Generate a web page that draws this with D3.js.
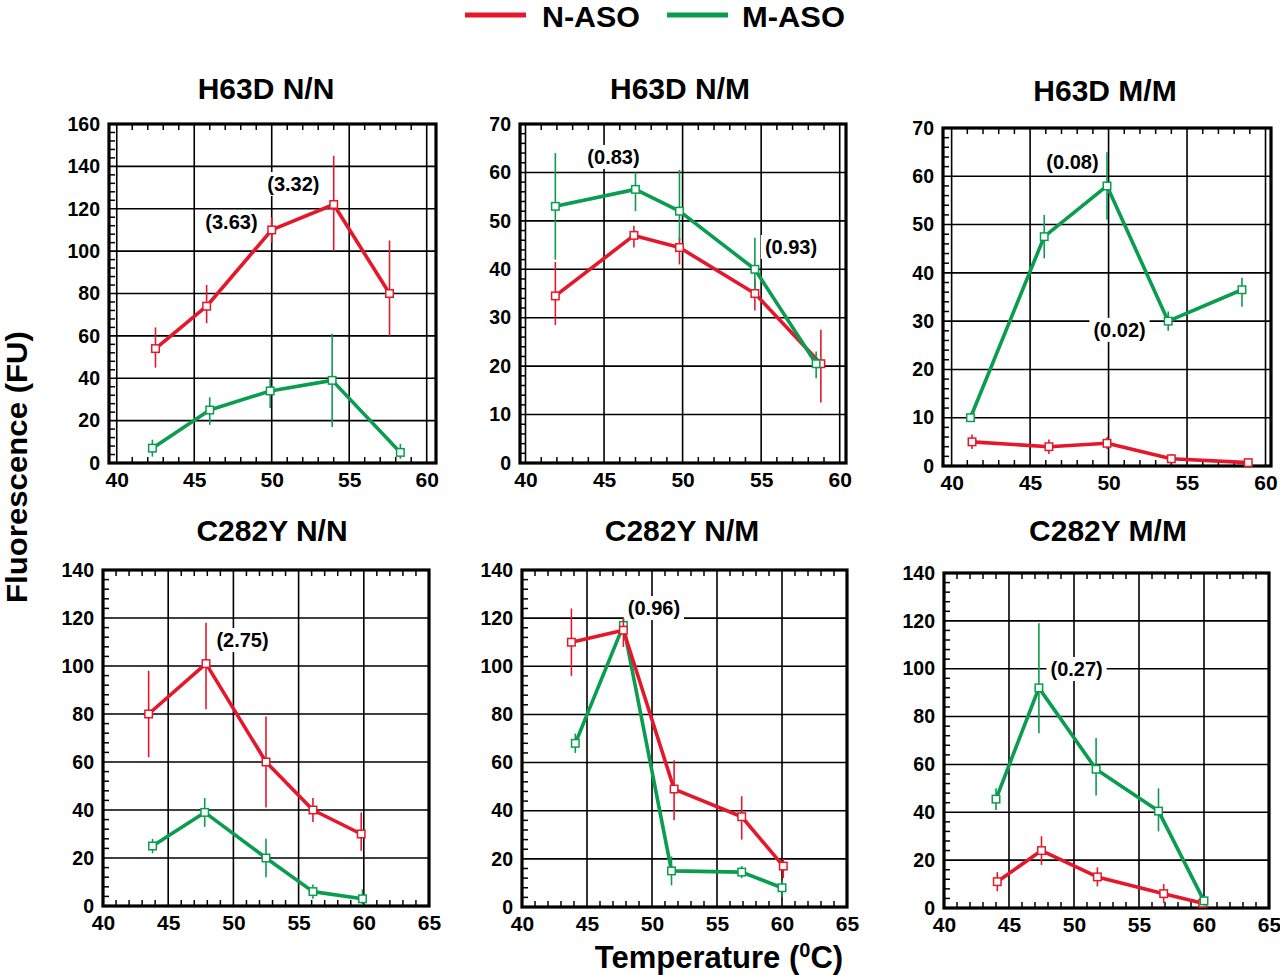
<!DOCTYPE html>
<html><head><meta charset="utf-8">
<script src="https://cdn.jsdelivr.net/npm/d3@7"></script>
<style>body{margin:0;background:#fff}</style>
</head><body>
<svg id="c" width="1280" height="975"></svg>
<script>
// ---------- DATA ----------
const seriesNames = ["N-ASO", "M-ASO"];
const panelTitles = ["H63D N/N", "H63D N/M", "H63D M/M", "C282Y N/N", "C282Y N/M", "C282Y M/M"];
const xTicksRow1 = [40, 45, 50, 55, 60];
const xTicksRow2 = [40, 45, 50, 55, 60, 65];
const yTicks160 = [0, 20, 40, 60, 80, 100, 120, 140, 160];
const yTicks70 = [0, 10, 20, 30, 40, 50, 60, 70];
const yTicks140 = [0, 20, 40, 60, 80, 100, 120, 140];

// each point: [temperature, value, error low, error high]
const h63dNN_N = [[42.5,54,45,64],[45.8,74,66,84],[50.0,110,104,116],[54.0,122,100,145],[57.6,80,60,105]];
const h63dNN_M = [[42.3,7,3,11],[46.0,25,18,31],[49.9,34,26,40],[53.9,39,17,61],[58.3,5,2,9]];
const h63dNM_N = [[41.9,34.5,28.5,41.5],[46.9,47,44.5,49],[49.8,44.5,41,46.5],[54.6,35,31.5,38],[58.8,20.5,12.5,27.5]];
const h63dNM_M = [[41.9,53,42,64],[47.0,56.5,52,60],[49.8,52,46,60.5],[54.6,40,36,46.5],[58.5,20.5,17.5,23]];
const h63dMM_N = [[41.3,5,3.5,6.5],[46.2,4,2.5,5.5],[49.9,4.7,3.5,6],[54.0,1.5,0.5,2.5],[58.9,0.7,0,1.2]];
const h63dMM_M = [[41.2,10,9.5,11],[45.9,47.5,43,52],[49.9,58,51,65],[53.8,30,28,32],[58.5,36.5,33,39]];
const c282yNN_N = [[43.5,80,62,98],[47.9,101,82,118],[52.5,60,41,79],[56.1,40,35,45],[59.8,30,23,39]];
const c282yNN_M = [[43.8,25,22,28],[47.8,39,33,45],[52.5,20,12,28],[56.1,6,3,9],[59.9,3,0.5,7]];
const c282yNM_N = [[43.8,110,96,124],[47.8,115,108,120],[51.7,49,36,61],[56.9,37.5,28,46],[60.1,17,12,20]];
const c282yNM_M = [[44.1,68,64,72],[47.8,117,114,120],[51.5,15,9,21],[56.9,14.5,12,17],[60.0,8,4,11]];
const c282yMM_N = [[44.1,11,7,15],[47.5,24,18,30],[51.8,13,9,17],[56.9,6,2,10],[59.9,2,1,3]];
const c282yMM_M = [[44.0,45.5,41,50],[47.3,92,73,119],[51.7,58,47,71],[56.5,40.5,32,50],[60.0,3,1,5]];

// ratio annotations: text and anchor in data units [temperature, value]
const annoText = [["(3.32)","(3.63)"],["(0.83)","(0.93)"],["(0.08)","(0.02)"],["(2.75)"],["(0.96)"],["(0.27)"]];
const annoAt = [[[51.4,131.7],[47.4,113.7]],[[45.6,63.2],[56.9,44.6]],[[47.7,63.0],[50.7,28.2]],[[50.7,110.8]],[[50.15,124.2]],[[50.2,99.9]]];

const panelSeries = [
  [h63dNN_M, h63dNN_N], [h63dNM_N, h63dNM_M], [h63dMM_N, h63dMM_M],
  [c282yNN_M, c282yNN_N], [c282yNM_M, c282yNM_N], [c282yMM_N, c282yMM_M]
];
const panelSeriesIdx = [[1,0],[0,1],[0,1],[1,0],[1,0],[0,1]]; // 0 = N-ASO, 1 = M-ASO

// ---------- LAYOUT ----------
const colors = ["#e5182b", "#0a9d4f"];
const FONT = "'Liberation Sans', Arial, Helvetica, sans-serif";
const layout = [
  {l:109, r:436, t:124, b:463, xd:[39.5,60.6],  yd:[0,160], xt:xTicksRow1, yt:yTicks160, title:[266,99]},
  {l:520, r:846, t:124, b:463, xd:[39.65,60.4], yd:[0,70],  xt:xTicksRow1, yt:yTicks70,  title:[680,99]},
  {l:943, r:1271,t:128, b:466, xd:[39.45,60.35],yd:[0,70],  xt:xTicksRow1, yt:yTicks70,  title:[1105,101]},
  {l:103, r:429, t:570, b:906, xd:[40,65],      yd:[0,140], xt:xTicksRow2, yt:yTicks140, title:[272,541]},
  {l:522, r:847, t:570, b:907, xd:[40,65],      yd:[0,140], xt:xTicksRow2, yt:yTicks140, title:[682,541]},
  {l:944, r:1269,t:573, b:908, xd:[40,65],      yd:[0,140], xt:xTicksRow2, yt:yTicks140, title:[1108,541]}
];

const svg = d3.select("#c").style("font-family", FONT);

// legend
const legend = [[465, 542], [667, 742]];
seriesNames.forEach((name, i) => {
  svg.append("line").attr("x1", legend[i][0]).attr("x2", legend[i][0] + 61)
    .attr("y1", 15).attr("y2", 15).attr("stroke", colors[i]).attr("stroke-width", 5);
  svg.append("text").attr("x", legend[i][1]).attr("y", 26.5).text(name)
    .attr("font-size", 29).attr("font-weight", "bold")
    .attr("textLength", i === 0 ? 98 : 103).attr("lengthAdjust", "spacingAndGlyphs");
});

layout.forEach((L, p) => {
  const x = d3.scaleLinear().domain(L.xd).range([L.l, L.r]);
  const y = d3.scaleLinear().domain(L.yd).range([L.b, L.t]);
  const g = svg.append("g");

  // title
  g.append("text").attr("x", L.title[0]).attr("y", L.title[1]).attr("text-anchor", "middle")
    .attr("font-size", 30).attr("font-weight", "bold").text(panelTitles[p]);

  // grid
  const gx = L.xt.filter(v => x(v) > L.l + 2 && x(v) < L.r - 2);
  const gy = L.yt.filter(v => y(v) < L.b - 2 && y(v) > L.t + 2);
  g.selectAll(".gx").data(gx).enter().append("line")
    .attr("x1", d => x(d)).attr("x2", d => x(d)).attr("y1", L.t).attr("y2", L.b)
    .attr("stroke", "#000").attr("stroke-width", 1.6);
  g.selectAll(".gy").data(gy).enter().append("line")
    .attr("x1", L.l).attr("x2", L.r).attr("y1", d => y(d)).attr("y2", d => y(d))
    .attr("stroke", "#000").attr("stroke-width", 1.6);

  // minor ticks
  const major = L.yt[1] - L.yt[0];
  const xMinor = d3.range(Math.ceil(L.xd[0]), Math.floor(L.xd[1]) + 1).filter(v => v % 5 !== 0);
  const yMinor = d3.range(L.yd[0], L.yd[1] + 0.001, major / 5)
    .filter(v => Math.abs(v / major - Math.round(v / major)) > 1e-6);
  xMinor.forEach(v => {
    g.append("line").attr("x1", x(v)).attr("x2", x(v)).attr("y1", L.t).attr("y2", L.t + 6).attr("stroke", "#000").attr("stroke-width", 1.5);
    g.append("line").attr("x1", x(v)).attr("x2", x(v)).attr("y1", L.b).attr("y2", L.b - 6).attr("stroke", "#000").attr("stroke-width", 1.5);
  });
  yMinor.forEach(v => {
    g.append("line").attr("x1", L.l).attr("x2", L.l + 6).attr("y1", y(v)).attr("y2", y(v)).attr("stroke", "#000").attr("stroke-width", 1.5);
  });

  // tick labels via axes (no domain line)
  const ax = g.append("g").attr("transform", `translate(0,${L.b})`)
    .call(d3.axisBottom(x).tickValues(L.xt).tickSize(0).tickPadding(9));
  ax.select(".domain").remove();
  ax.selectAll("text").attr("font-size", 21).attr("font-weight", "bold").attr("font-family", FONT).attr("fill", "#000");
  const ay = g.append("g").attr("transform", `translate(${L.l},0)`)
    .call(d3.axisLeft(y).tickValues(L.yt).tickSize(0).tickPadding(9));
  ay.select(".domain").remove();
  ay.selectAll("text").attr("font-size", 19.5).attr("font-weight", "bold").attr("font-family", FONT).attr("fill", "#000");

  // frame
  g.append("rect").attr("x", L.l).attr("y", L.t).attr("width", L.r - L.l).attr("height", L.b - L.t)
    .attr("fill", "none").attr("stroke", "#000").attr("stroke-width", 3.2);

  // annotations with white background
  annoText[p].forEach((txt, k) => {
    const t = g.append("text").attr("x", x(annoAt[p][k][0])).attr("y", y(annoAt[p][k][1]))
      .attr("text-anchor", "middle").attr("dominant-baseline", "central")
      .attr("font-size", 20).attr("font-weight", "bold").text(txt);
    const bb = t.node().getBBox();
    g.insert("rect", () => t.node()).attr("x", bb.x - 4).attr("y", bb.y - 1)
      .attr("width", bb.width + 8).attr("height", bb.height + 2).attr("fill", "#fff");
  });

  // series
  const line = d3.line().x(d => x(d[0])).y(d => y(d[1]));
  panelSeries[p].forEach((data, s) => {
    const c = colors[panelSeriesIdx[p][s]];
    const sg = g.append("g");
    sg.selectAll(".eb").data(data).enter().append("line")
      .attr("x1", d => x(d[0])).attr("x2", d => x(d[0]))
      .attr("y1", d => y(d[2])).attr("y2", d => y(d[3]))
      .attr("stroke", c).attr("stroke-width", 1.6);
    sg.append("path").datum(data).attr("d", line).attr("fill", "none")
      .attr("stroke", c).attr("stroke-width", 3.6).attr("stroke-linejoin", "round");
    sg.selectAll(".mk").data(data).enter().append("rect")
      .attr("x", d => x(d[0]) - 3.75).attr("y", d => y(d[1]) - 3.75)
      .attr("width", 7.5).attr("height", 7.5).attr("fill", "#fff")
      .attr("stroke", c).attr("stroke-width", 1.5);
  });
});

// axis titles
svg.append("text").attr("transform", "translate(27,467) rotate(-90)").attr("text-anchor", "middle")
  .attr("font-size", 29).attr("font-weight", "bold")
  .attr("textLength", 272).attr("lengthAdjust", "spacingAndGlyphs").text("Fluorescence (FU)");
const tt = svg.append("text").attr("x", 719).attr("y", 968).attr("text-anchor", "middle")
  .attr("font-size", 31).attr("font-weight", "bold");
tt.append("tspan").text("Temperature (");
tt.append("tspan").attr("font-size", 20).attr("dy", -11).text("0");
tt.append("tspan").attr("dy", 11).text("C)");
</script>
</body></html>
